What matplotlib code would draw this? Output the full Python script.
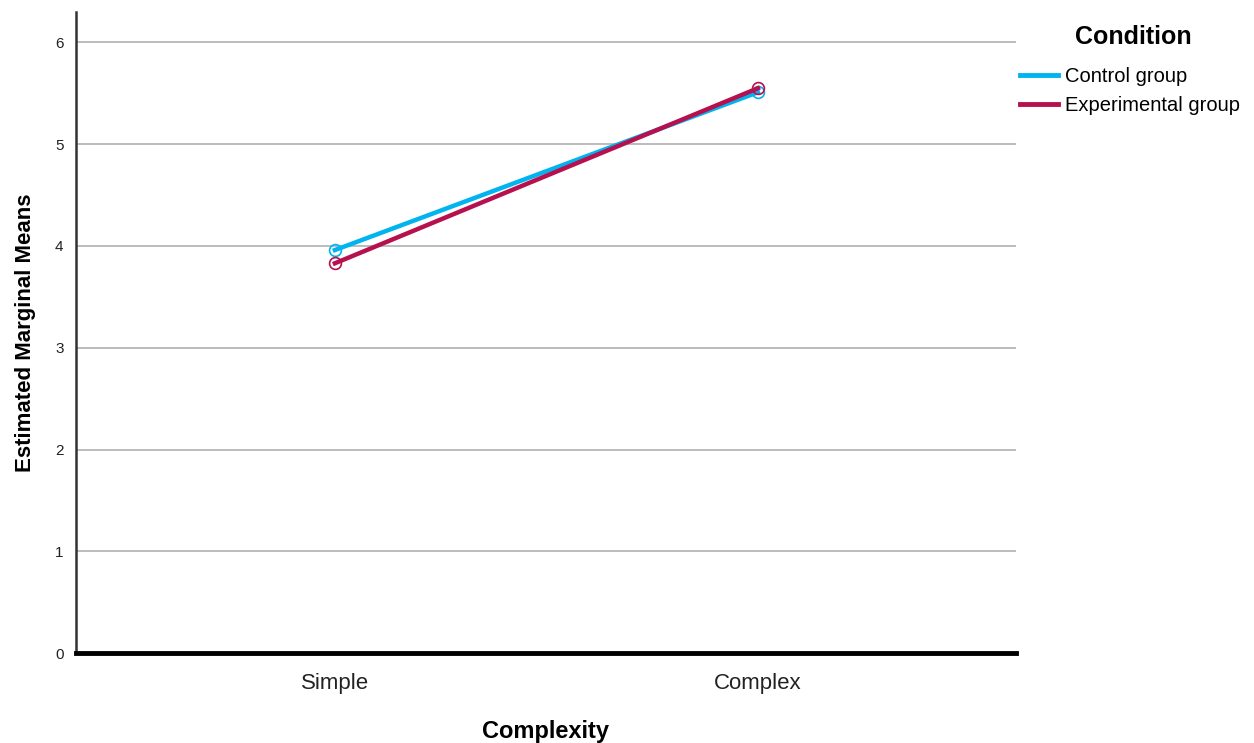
import matplotlib
matplotlib.use('Agg')
import matplotlib.pyplot as plt
from matplotlib.lines import Line2D

# data
categories = ['Simple', 'Complex']
control = [3.96, 5.51]
experimental = [3.83, 5.55]
y_ticks = [0, 1, 2, 3, 4, 5, 6]
series_names = ['Control group', 'Experimental group']
colors = ['#00b4f0', '#b7104f']

plt.rcParams['font.family'] = ['Liberation Sans', 'DejaVu Sans']

fig = plt.figure(figsize=(12.54, 7.43), dpi=100)
ax = fig.add_axes([0.0606, 0.121, 0.7496, 0.863])

x = list(range(len(categories)))
for vals, c, name in zip([control, experimental], colors, series_names):
    ax.plot(x, vals, color=c, linewidth=3.2, marker='o', markersize=8.5,
            markerfacecolor='none', markeredgewidth=1.2, label=name, zorder=3)

ax.set_xlim(-0.612, 1.61)
ax.set_ylim(0, 6.3)
ax.set_xticks(x)
ax.set_xticklabels(categories, fontsize=16, color='#222222')
ax.set_yticks(y_ticks)
ax.set_yticklabels([str(t) for t in y_ticks], fontsize=11, color='#222222')
ax.tick_params(axis='both', length=0)
ax.tick_params(axis='x', pad=14)
ax.tick_params(axis='y', pad=9)

for t in y_ticks[1:]:
    ax.axhline(t, color='#b0b0b0', linewidth=1.2, zorder=1)

ax.spines['top'].set_visible(False)
ax.spines['right'].set_visible(False)
ax.spines['left'].set_color('#333333')
ax.spines['left'].set_linewidth(1.8)
ax.spines['bottom'].set_color('black')
ax.spines['bottom'].set_linewidth(3.5)

ax.set_xlabel('Complexity', fontsize=17, fontweight='bold', labelpad=19)
ax.set_ylabel('Estimated Marginal Means', fontsize=16, fontweight='bold', labelpad=14)

# legend: title as separate text, handles as plain lines
fig.text(1133 / 1254, 1 - 37 / 743, 'Condition', fontsize=18, fontweight='bold',
         ha='center', va='center')
handles = [Line2D([0], [0], color=c, linewidth=3.5) for c in colors]
fig.legend(handles, series_names, loc='upper left',
           bbox_to_anchor=(1020 / 1254, 1 - 67 / 743), frameon=False,
           fontsize=14.5, handlelength=1.9, handletextpad=0.35,
           labelspacing=0.5, borderaxespad=0, borderpad=0)

fig.savefig('out.png', dpi=100)
